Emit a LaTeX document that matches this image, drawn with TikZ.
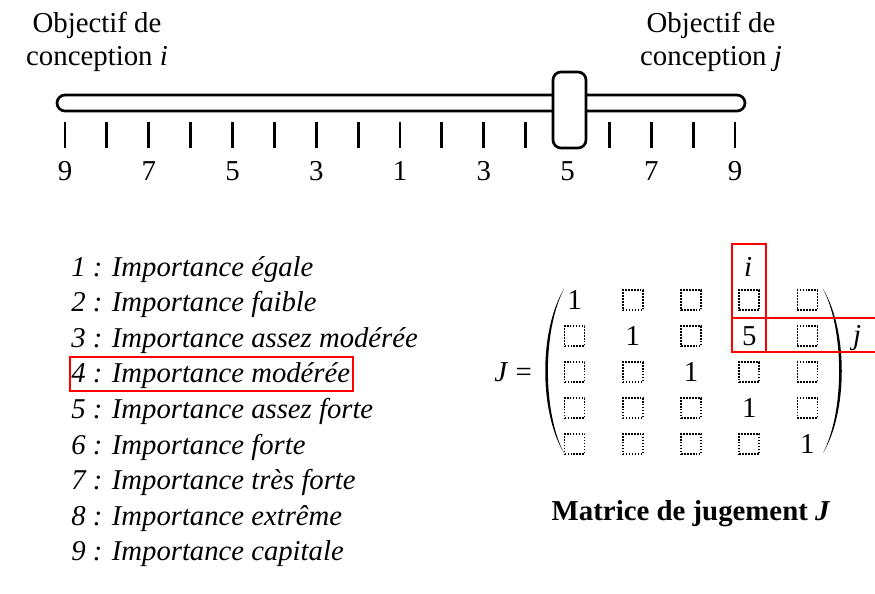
\documentclass[tikz,border=0pt]{standalone}
\usepackage{fontspec}
\setmainfont{Liberation Serif}
\usepackage{tikz}
\usetikzlibrary{positioning}
\usetikzlibrary{matrix}
\usetikzlibrary{calc}
\tikzstyle{slidebar}=[draw=black, line width=1.9pt, fill=white, rounded corners=0.2cm]
\tikzstyle{knob}=[draw=black, line width=1.9pt, fill=white, rounded corners=0.2cm]
\tikzstyle{tick}=[draw=black, line width=2pt]
\tikzstyle{legend}=[anchor=base west, inner sep=0pt, font=\fontsize{20.4}{24}\selectfont\itshape]
\tikzstyle{cell}=[minimum size=0.5cm, inner sep=0pt, anchor=center]
\tikzstyle{sq}=[draw=black, line width=1.2pt, dash pattern=on 1.2pt off 0.9pt]
\tikzstyle{paren}=[fill=black]
\tikzstyle{hibox}=[draw=red, line width=1.3pt]

\begin{document}
\begin{tikzpicture}[x=0.025cm, y=-0.025cm, every node/.style={font=\fontsize{20.5}{23.5}\selectfont}]
    \useasboundingbox (0,0) rectangle (875,593);

    % titles of the two objectives
    \node[align=center] (obji) at (97,42)  {Objectif de\\conception \textit{i}};
    \node[align=center] (objj) at (711,42) {Objectif de\\conception \textit{j}};

    % slider
    \draw[slidebar] (57,95) rectangle (745,111);
    \foreach \k in {0,...,16}
      \draw[tick] ({65+\k*41.875},122) -- ({65+\k*41.875},148);
    \foreach \k/\v in {0/9, 2/7, 4/5, 6/3, 8/1, 10/3, 12/5, 14/7, 16/9}
      \node (lbl\k) at ({65+\k*41.875},171) {\v};
    \draw[knob] (553,72) rectangle (586,148);

    % scale of importance
    \foreach \n/\t in {1/égale, 2/faible, 3/assez modérée, 4/modérée, 5/assez forte,
                       6/forte, 7/très forte, 8/extrême, 9/capitale}
      \node[legend] (imp\n) at (71,{276+(\n-1)*35.6}) {\n{} : Importance \t};
    \draw[hibox] ($(imp4.base west)+(-1,8)$) rectangle ($(imp4.base west)+(282,-26)$);

    % judgement matrix
    \matrix (jm) at (691,372) [matrix of nodes, nodes={cell}, column sep=0.9125cm, row sep=0.356cm] {
      1          & |[sq]| {} & |[sq]| {} & |[sq]| {} & |[sq]| {} \\
      |[sq]| {}  & 1         & |[sq]| {} & 5         & |[sq]| {} \\
      |[sq]| {}  & |[sq]| {} & 1         & |[sq]| {} & |[sq]| {} \\
      |[sq]| {}  & |[sq]| {} & |[sq]| {} & 1         & |[sq]| {} \\
      |[sq]| {}  & |[sq]| {} & |[sq]| {} & |[sq]| {} & 1         \\
    };
    \fill[paren] (564,289) .. controls (539,330) and (539,412) .. (564,453)
                           .. controls (542.5,412) and (542.5,330) .. (564,289) -- cycle;
    \fill[paren] (823,289) .. controls (848,330) and (848,412) .. (823,453)
                           .. controls (844.5,412) and (844.5,330) .. (823,289) -- cycle;
    \node (jeq) [left=0.55cm of jm] {\textit{J} =};
    \node (icol) at (748,267) {\textit{i}};
    \node (jrow) at (857,338) {\textit{j}};
    \draw[hibox] ($(jm-2-4)+(-17,16)$) rectangle ($(jm-2-4)+(17,-92)$);
    \draw[hibox] ($(jm-2-4)+(-17,16)$) rectangle ($(jm-2-4)+(140,-18)$);

    \node (caption) [below=0.9cm of jm] {\textbf{Matrice de jugement \textit{J}}};
\end{tikzpicture}
\end{document}
